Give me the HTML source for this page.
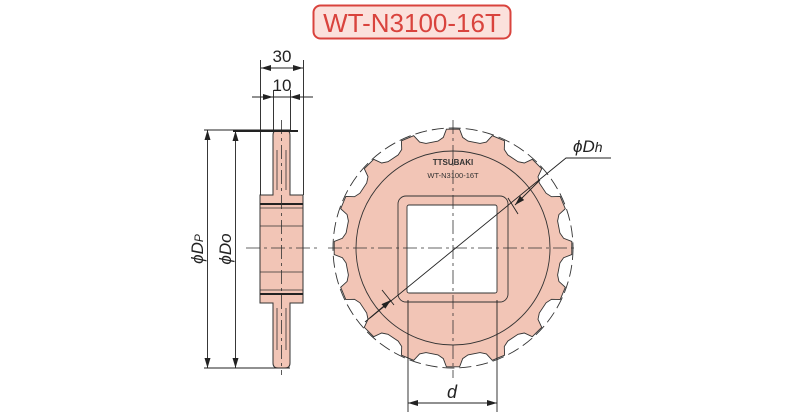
<!DOCTYPE html>
<html><head><meta charset="utf-8"><style>
html,body{margin:0;padding:0;background:#fff;width:800px;height:418px;overflow:hidden}
svg{display:block}
text{font-family:"Liberation Sans",sans-serif}
</style></head><body>
<svg id="s" width="800" height="418" viewBox="0 0 800 418" xmlns="http://www.w3.org/2000/svg">
<defs>
<marker id="a" viewBox="0 0 10 6" refX="10" refY="3" markerWidth="10" markerHeight="6" orient="auto-start-reverse" markerUnits="userSpaceOnUse"><path d="M0,0 L10,3 L0,6 z" fill="#222"/></marker>
</defs>
<!-- title -->
<rect x="313.5" y="5.5" width="197" height="33" rx="7" fill="#fbe1dc" stroke="#d9433d" stroke-width="2"/>
<text x="412" y="32" font-size="26" fill="#d9433d" text-anchor="middle">WT-N3100-16T</text>

<!-- side view -->
<g stroke="#333" stroke-width="1" fill="#f2c5b6">
<path d="M273,195 L273,135 Q273,130 278,130 L285,130 Q290,130 290,135 L290,195 L303,195 L303,303 L290,303 L290,363 Q290,368 285,368 L278,368 Q273,368 273,363 L273,303 L260,303 L260,195 Z"/>
</g>
<g stroke="#333" stroke-width="0.8" fill="none">
<path d="M277,150 L277,190 M286,150 L286,190 M277,308 L277,350 M286,308 L286,350"/>
<path d="M260,208 L303,208 M260,226 L303,226 M260,272 L303,272 M260,290 L303,290"/>
</g>
<path d="M260,204 L303,204 M260,294 L303,294" stroke="#222" stroke-width="2"/>
<path d="M246,248 L318,248" stroke="#333" stroke-width="0.8" stroke-dasharray="14,4,3,4"/>
<path d="M281.5,120 L281.5,375" stroke="#333" stroke-width="0.8" stroke-dasharray="14,4,3,4"/>
<!-- dims top -->
<g stroke="#222" stroke-width="0.9" fill="none">
<path d="M260.5,60 L260.5,195 M303.5,60 L303.5,195 M273.5,90 L273.5,130 M290.5,90 L290.5,130"/>
<path d="M261,68 L303,68" marker-start="url(#a)" marker-end="url(#a)"/>
<path d="M252,97 L273,97" marker-end="url(#a)"/>
<path d="M313,97 L290,97" marker-end="url(#a)"/>
<path d="M273,97 L290,97"/>
<path d="M204,130 L290,130 M204,368 L290,368"/>
<path d="M207.5,130 L207.5,368" marker-start="url(#a)" marker-end="url(#a)"/>
<path d="M235.5,131 L235.5,368" marker-start="url(#a)" marker-end="url(#a)"/>
</g>
<path d="M233,131 L298,131" stroke="#222" stroke-width="2"/>
<text x="282" y="62" font-size="17" fill="#222" text-anchor="middle">30</text>
<text x="282" y="91" font-size="17" fill="#222" text-anchor="middle">10</text>
<text transform="translate(203,249) rotate(-90)" font-size="17" fill="#222" text-anchor="middle" font-style="italic">ϕD<tspan font-size="12">P</tspan></text>
<text transform="translate(231,249) rotate(-90)" font-size="17" fill="#222" text-anchor="middle" font-style="italic">ϕDo</text>

<!-- front view -->
<g id="front"></g>
<circle cx="453" cy="248" r="120" fill="none" stroke="#333" stroke-width="0.9" stroke-dasharray="12,5"/>
<circle cx="453" cy="248" r="97" fill="none" stroke="#333" stroke-width="0.9"/>
<rect x="398" y="196" width="110" height="106" rx="8" fill="#f2c5b6" stroke="#333" stroke-width="0.9"/>
<rect x="407" y="205" width="90" height="88" rx="2" fill="#fff" stroke="#333" stroke-width="0.9"/>
<g stroke="#333" stroke-width="0.8" stroke-dasharray="14,4,3,4">
<path d="M328,248 L578,248 M453,120 L453,378"/>
</g>
<text x="453" y="165" font-size="8" fill="#333" text-anchor="middle" font-weight="bold">TTSUBAKI</text>
<text x="453" y="178" font-size="7.5" fill="#333" text-anchor="middle">WT-N3100-16T</text>
<!-- Dh -->
<g stroke="#222" stroke-width="0.9" fill="none">
<path d="M611,158 L566,158 L370,318"/>
<path d="M540,180 L515,205" marker-end="url(#a)"/>
<path d="M365,322 L391,300" marker-end="url(#a)"/>
<path d="M508,198 L518,214 M382,290 L394,305"/>
<path d="M408,300 L408,412 M497,300 L497,412"/>
<path d="M408,403 L497,403" marker-start="url(#a)" marker-end="url(#a)"/>
</g>
<text x="573" y="152" font-size="17" fill="#222" font-style="italic">ϕD<tspan font-size="14">h</tspan></text>
<text x="452" y="398" font-size="18" fill="#222" font-style="italic" text-anchor="middle">d</text>
</svg>
<script>
(function(){
var cx=453,cy=248,rr=108,rt=119,pts=[];
function p(r,a){a=a*Math.PI/180;return (cx+r*Math.cos(a)).toFixed(1)+","+(cy-r*Math.sin(a)).toFixed(1);}
for(var i=0;i<16;i++){var t=i*22.5;
pts.push(p(rr,t-8));pts.push(p(rr+3,t-5));pts.push(p(rt,t-3.2));pts.push(p(rt,t+3.2));pts.push(p(rr+3,t+5));pts.push(p(rr,t+8));}
var g=document.getElementById('front');
var el=document.createElementNS('http://www.w3.org/2000/svg','polygon');
el.setAttribute('points',pts.join(' '));el.setAttribute('fill','#f2c5b6');el.setAttribute('stroke','#333');el.setAttribute('stroke-width','0.9');
g.appendChild(el);
})();
</script>
</body></html>
